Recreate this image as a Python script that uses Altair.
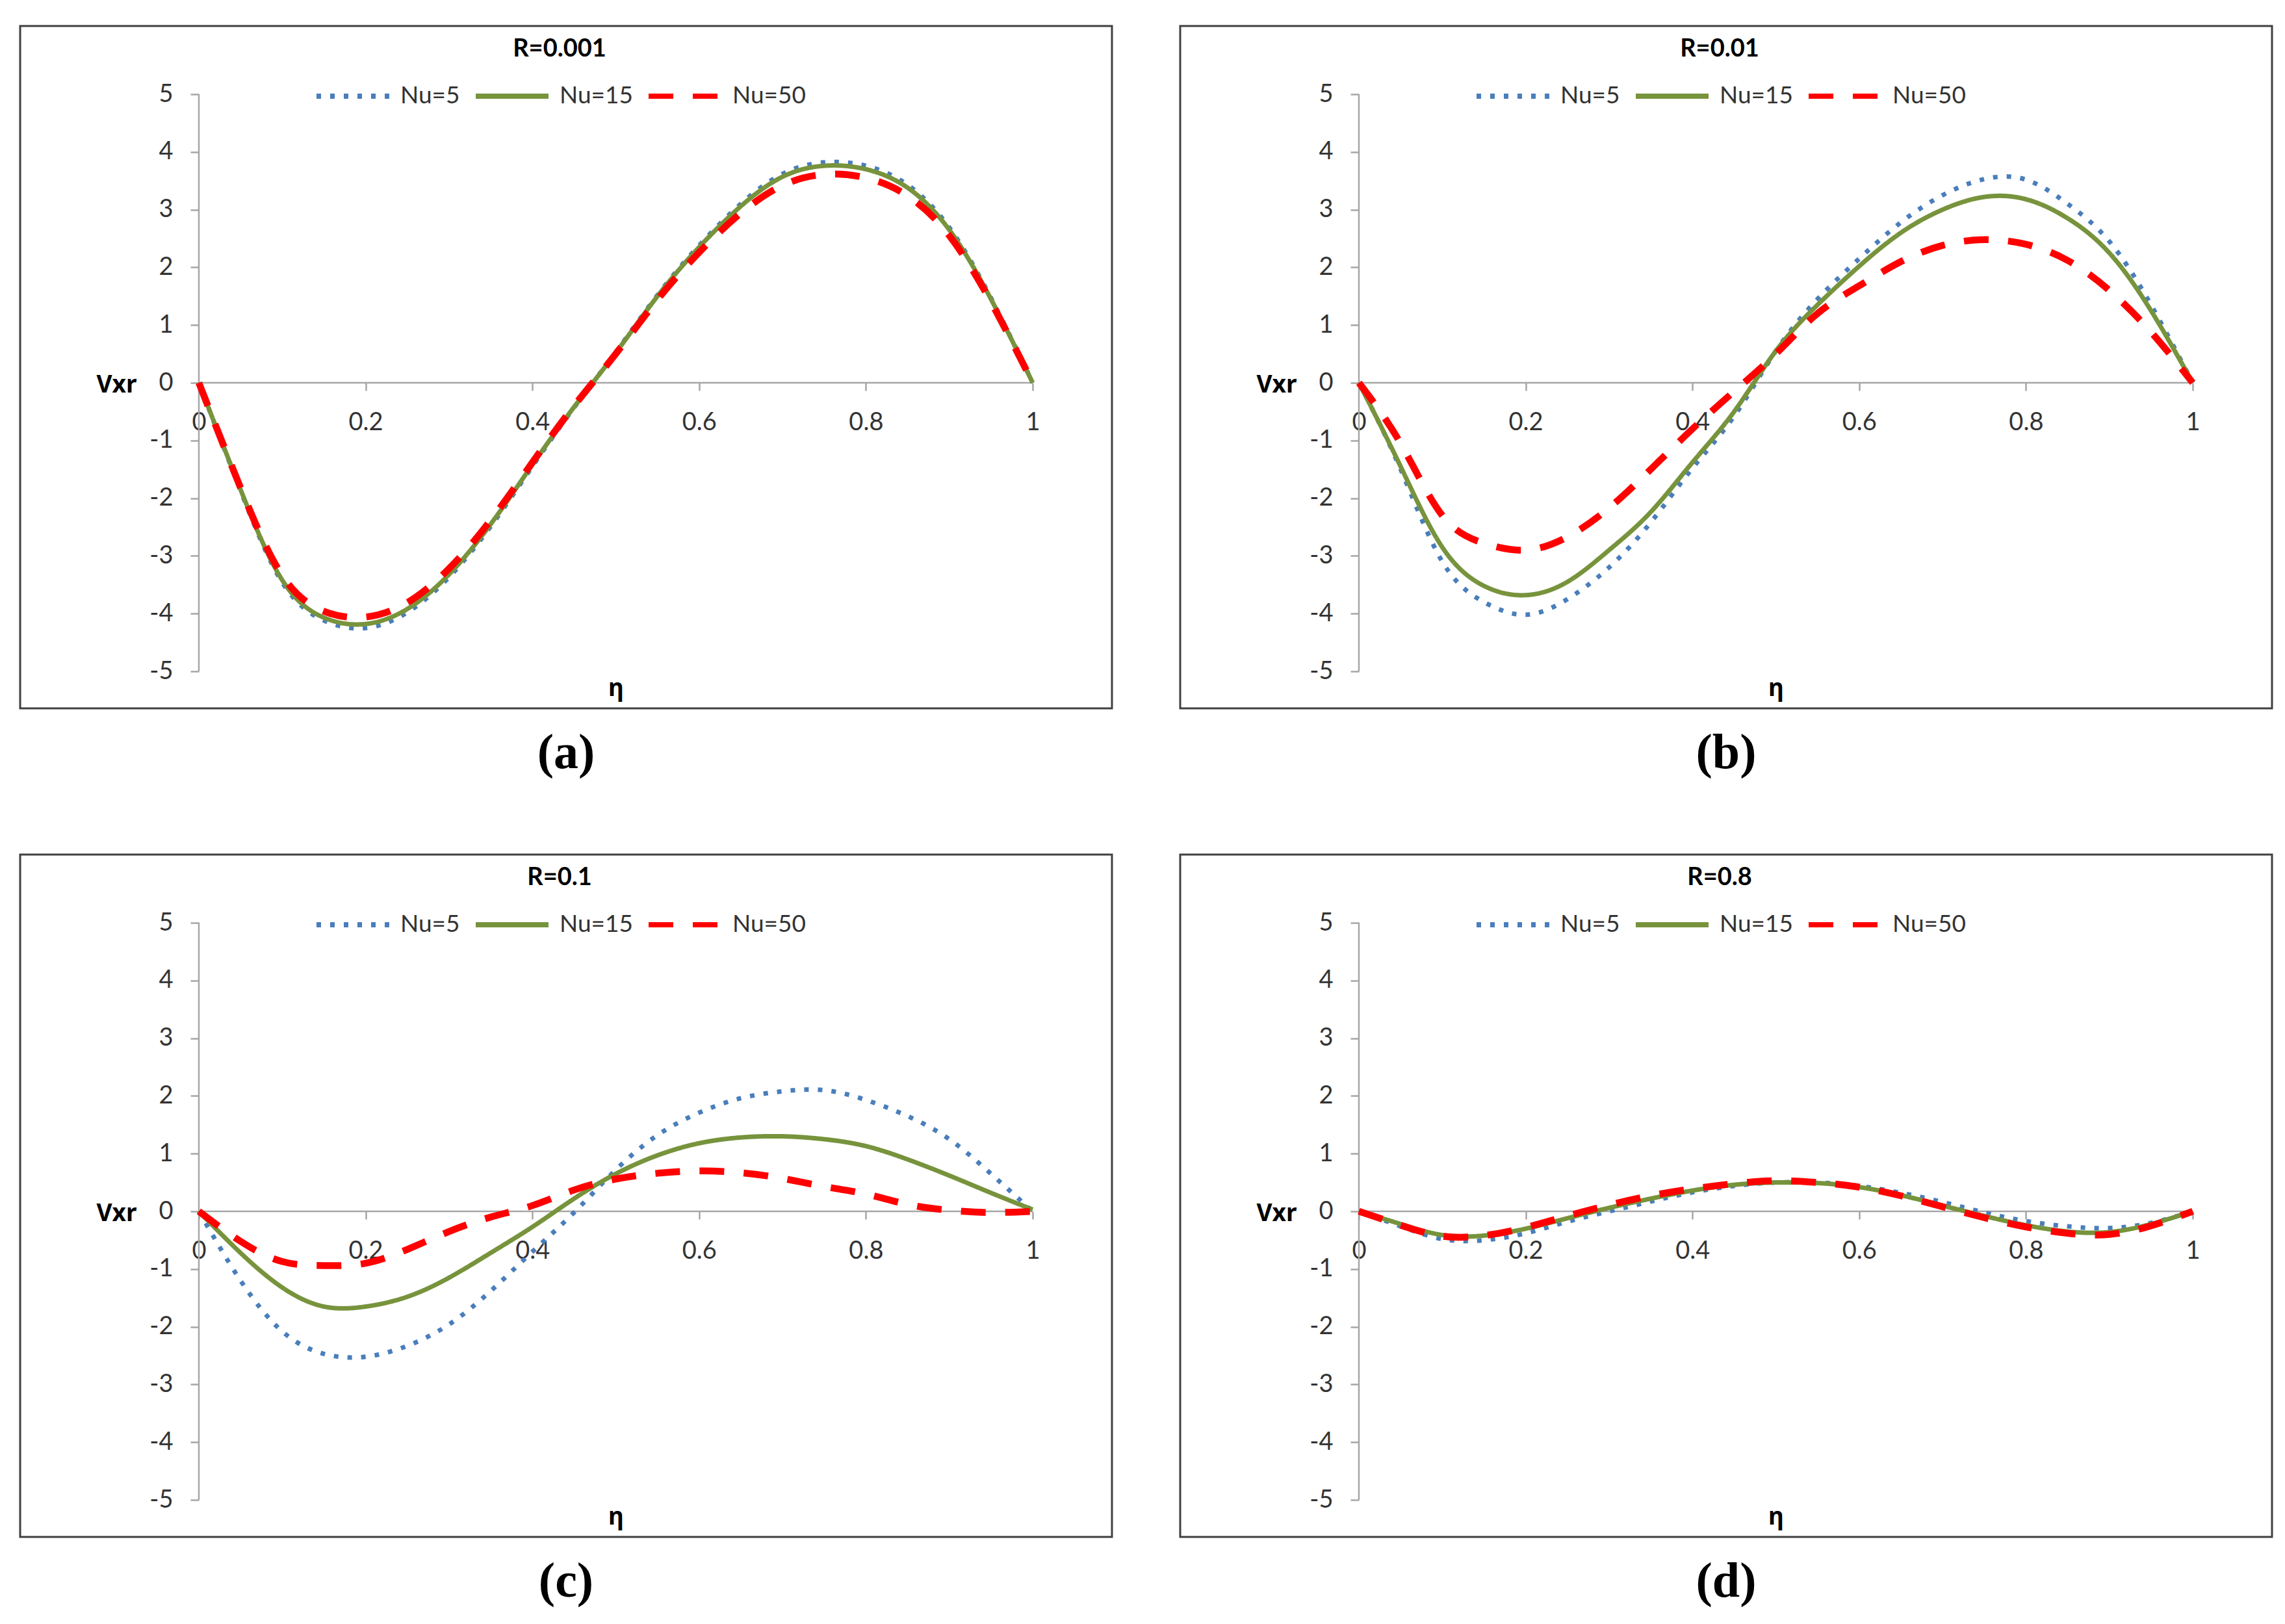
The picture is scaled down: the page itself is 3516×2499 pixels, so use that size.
import altair as alt
import pandas as pd

# ---------------- data ----------------
ETA = [0.0, 0.05, 0.1, 0.15, 0.2, 0.25, 0.3, 0.35, 0.4, 0.45, 0.5,
       0.55, 0.6, 0.65, 0.7, 0.75, 0.8, 0.85, 0.9, 0.95, 1.0]

SERIES = ["Nu=5", "Nu=15", "Nu=50"]

A_NU5 = [0, -1.87, -3.46, -4.12, -4.25, -3.98, -3.37, -2.49, -1.45, -0.43, 0.53,
         1.52, 2.38, 3.10, 3.62, 3.82, 3.76, 3.43, 2.69, 1.47, 0]
A_NU15 = [0, -1.85, -3.42, -4.07, -4.18, -3.92, -3.32, -2.45, -1.42, -0.42, 0.52,
          1.50, 2.35, 3.06, 3.57, 3.76, 3.70, 3.38, 2.65, 1.45, 0]
A_NU50 = [0, -1.82, -3.34, -3.96, -4.06, -3.81, -3.22, -2.38, -1.38, -0.40, 0.50,
          1.44, 2.26, 2.94, 3.42, 3.61, 3.55, 3.24, 2.55, 1.40, 0]

B_NU5 = [0, -1.50, -3.10, -3.80, -4.02, -3.75, -3.20, -2.42, -1.48, -0.58, 0.55,
         1.45, 2.15, 2.78, 3.25, 3.53, 3.52, 3.10, 2.45, 1.35, 0]
B_NU15 = [0, -1.45, -2.85, -3.52, -3.68, -3.45, -2.90, -2.24, -1.38, -0.50, 0.55,
          1.35, 2.02, 2.60, 3.00, 3.22, 3.18, 2.85, 2.25, 1.25, 0]
B_NU50 = [0, -1.05, -2.30, -2.78, -2.90, -2.67, -2.17, -1.50, -0.80, -0.15, 0.50,
          1.20, 1.68, 2.10, 2.38, 2.48, 2.40, 2.12, 1.60, 0.88, 0]

C_NU5 = [0, -1.20, -2.08, -2.47, -2.52, -2.33, -1.96, -1.38, -0.70, -0.02, 0.72,
         1.32, 1.71, 1.96, 2.08, 2.10, 1.93, 1.65, 1.25, 0.65, 0]
C_NU15 = [0, -0.72, -1.32, -1.65, -1.65, -1.48, -1.15, -0.72, -0.27, 0.22, 0.65,
          0.97, 1.18, 1.28, 1.30, 1.25, 1.13, 0.90, 0.62, 0.32, 0.03]
C_NU50 = [0, -0.52, -0.87, -0.94, -0.90, -0.66, -0.35, -0.10, 0.10, 0.37, 0.56,
          0.66, 0.70, 0.67, 0.57, 0.43, 0.30, 0.12, 0.02, -0.02, 0]

D_NU5 = [0, -0.26, -0.48, -0.50, -0.38, -0.18, 0.00, 0.17, 0.33, 0.44, 0.50,
         0.50, 0.44, 0.32, 0.16, -0.02, -0.17, -0.26, -0.29, -0.20, 0]
D_NU15 = [0, -0.22, -0.41, -0.42, -0.30, -0.12, 0.06, 0.22, 0.36, 0.46, 0.50,
          0.49, 0.42, 0.28, 0.10, -0.08, -0.24, -0.35, -0.36, -0.22, 0]
D_NU50 = [0, -0.24, -0.43, -0.42, -0.28, -0.08, 0.11, 0.27, 0.39, 0.48, 0.53,
          0.50, 0.42, 0.27, 0.08, -0.11, -0.27, -0.38, -0.40, -0.25, 0]

PANELS = [
    ("R=0.001", "(a)", [A_NU5, A_NU15, A_NU50]),
    ("R=0.01", "(b)", [B_NU5, B_NU15, B_NU50]),
    ("R=0.1", "(c)", [C_NU5, C_NU15, C_NU50]),
    ("R=0.8", "(d)", [D_NU5, D_NU15, D_NU50]),
]

X_TICKS = [0, 0.2, 0.4, 0.6, 0.8, 1]
Y_TICKS = [-5, -4, -3, -2, -1, 0, 1, 2, 3, 4, 5]

# ---------------- styling ----------------
COLORS = ["#4A7EBB", "#77933C", "#FF0000"]
DASHES = [[7, 14], [1, 0], [38, 30]]
WIDTHS = [7, 7, 10.5]

W, H = 1680, 1050
X0PX, XUNIT = 275, 1283.0
Y5PX, YUNIT = 105, 88.8
XMIN = -X0PX / XUNIT
XMAX = 1 + (W - X0PX - XUNIT) / XUNIT
YMAX = 5 + Y5PX / YUNIT
YMIN = -5 - (H - Y5PX - 10 * YUNIT) / YUNIT
Y0PX = Y5PX + 5 * YUNIT

FONT = "Lato"
TXT = "#333333"
AXC = "#A6A6A6"


def make_panel(rtitle, letter, vals):
    rows = []
    for s, v in zip(SERIES, vals):
        for e, y in zip(ETA, v):
            rows.append({"eta": e, "vxr": y, "series": s})
    df = pd.DataFrame(rows)

    xs = alt.Scale(domain=[XMIN, XMAX], nice=False, zero=False)
    ys = alt.Scale(domain=[YMIN, YMAX], nice=False, zero=False)

    xaxis = alt.Axis(
        values=X_TICKS, labelExpr="'' + datum.value", orient="bottom",
        offset=-(H - Y0PX), domain=False, grid=False,
        tickSize=12, tickColor=AXC, tickWidth=2.5,
        labelPadding=30, labelFont=FONT, labelFontSize=38, labelColor=TXT,
        labelFlush=False, labelOverlap=False,
        title="η", titleFont="Noto Sans", titleFontSize=37, titleFontWeight="bold",
        titleColor="#000000", titleX=X0PX + 0.5 * XUNIT, titleY=481,
        titleAlign="center", titleBaseline="alphabetic",
    )
    yaxis = alt.Axis(
        values=Y_TICKS, labelExpr="'' + datum.value", orient="left",
        offset=-X0PX, domain=False, grid=False,
        tickSize=13, tickColor=AXC, tickWidth=2.5,
        labelPadding=27, labelFont=FONT, labelFontSize=38, labelColor=TXT,
        labelFlush=False, labelOverlap=False,
        title="Vxr", titleFont="Noto Sans", titleFontSize=37, titleFontWeight="bold",
        titleColor="#000000", titleAngle=0, titleX=-96, titleY=Y0PX + 3,
        titleAlign="right", titleBaseline="middle",
    )
    legend = alt.Legend(
        title=rtitle, orient="none", legendX=452, legendY=17, direction="horizontal",
        titleAnchor="middle", titleFont=FONT, titleFontSize=38, titleFontWeight="bold",
        titleColor="#000000", titlePadding=-7,
        labelFont=FONT, labelFontSize=37, labelColor=TXT, labelOffset=13,
        columnPadding=8, symbolType="stroke", symbolSize=12544, padding=0,
        symbolStrokeWidth=8, labelLimit=400,
    )

    color = alt.Color("series:N", scale=alt.Scale(domain=SERIES, range=COLORS), legend=legend)
    dash = alt.StrokeDash("series:N", scale=alt.Scale(domain=SERIES, range=DASHES), legend=legend)

    xrule = alt.Chart(pd.DataFrame({"x": [0], "x2": [1], "y": [0]})).mark_rule(
        color=AXC, strokeWidth=2.5
    ).encode(
        x=alt.X("x:Q", scale=xs, axis=xaxis), x2="x2:Q",
        y=alt.Y("y:Q", scale=ys, axis=yaxis),
    )
    yrule = alt.Chart(pd.DataFrame({"x": [0], "y": [-5], "y2": [5]})).mark_rule(
        color=AXC, strokeWidth=2.5
    ).encode(
        x=alt.X("x:Q", scale=xs, axis=xaxis),
        y=alt.Y("y:Q", scale=ys, axis=yaxis), y2="y2:Q",
    )

    layers = [xrule, yrule]
    for s, w in zip(SERIES, WIDTHS):
        layers.append(
            alt.Chart(df).transform_filter(alt.datum.series == s)
            .mark_line(interpolate="natural", strokeWidth=w)
            .encode(
                x=alt.X("eta:Q", scale=xs, axis=xaxis),
                y=alt.Y("vxr:Q", scale=ys, axis=yaxis),
                color=color, strokeDash=dash,
            )
        )

    return alt.layer(*layers).properties(
        width=W, height=H,
        title=alt.TitleParams(
            text=letter, orient="bottom", anchor="middle",
            font="Liberation Serif", fontSize=76, fontWeight="bold",
            color="#000000", offset=32, baseline="top",
        ),
    )


charts = [make_panel(*p) for p in PANELS]

RES = dict(color="independent", strokeDash="independent")
row1 = alt.hconcat(charts[0], charts[1], spacing=101).resolve_scale(**RES).resolve_legend(**RES)
row2 = alt.hconcat(charts[2], charts[3], spacing=101).resolve_scale(**RES).resolve_legend(**RES)

chart = alt.vconcat(row1, row2, spacing=114).resolve_scale(**RES).resolve_legend(**RES).properties(
    padding={"left": 21, "top": 30, "right": 10, "bottom": 10},
    background="white",
).configure_view(stroke="#404040", strokeWidth=3)

chart.save("out.html", embed_options={"renderer": "svg", "actions": False})
